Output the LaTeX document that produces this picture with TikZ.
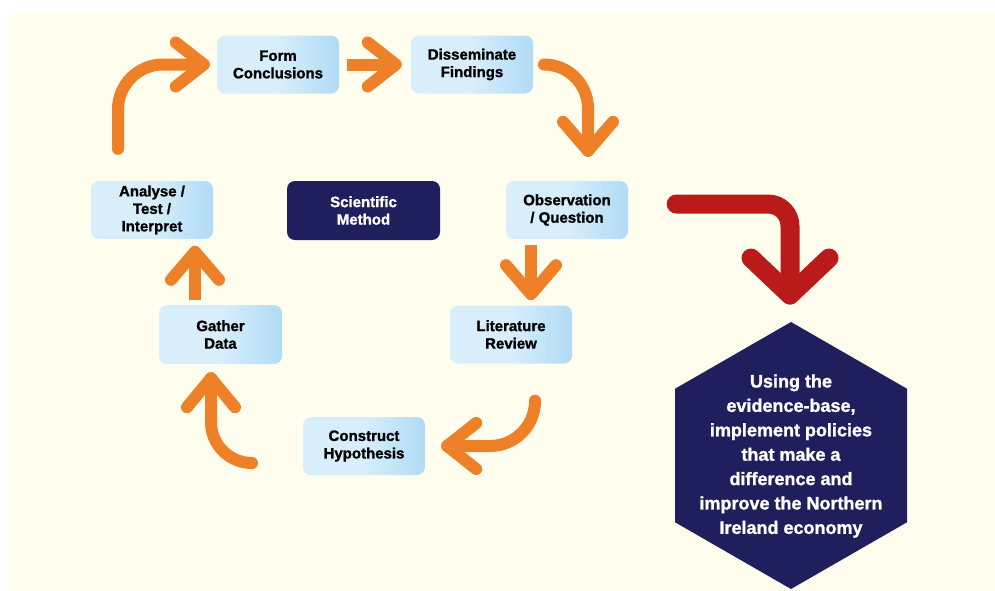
\documentclass[tikz,border=0pt]{standalone}
\usepackage{fontspec}
\setmainfont{Liberation Sans}[BoldFeatures={FakeBold=1.3}]
\usetikzlibrary{calc}
\definecolor{cream}{HTML}{FFFDEE}
\definecolor{orng}{HTML}{EE8028}
\definecolor{redarr}{HTML}{BB1A1A}
\definecolor{navy}{HTML}{1E1F5C}
\definecolor{boxL}{HTML}{D8EEFB}
\definecolor{boxR}{HTML}{B0DBF5}
\newcommand\chevron[4]{\draw[#1] ($(#2)+(#3)$) -- (#2) -- ($(#2)+(#4)$);}
\begin{document}
\begin{tikzpicture}[x=1pt,y=-1pt,
  stepbox/.style={rounded corners=8pt, left color=boxL, right color=boxR, middle color=boxL,
    minimum width=122pt, minimum height=58pt, inner sep=0pt, align=center,
    font=\fontsize{15}{17.5}\selectfont\bfseries, text=black},
  titlebox/.style={rounded corners=8pt, fill=navy, minimum width=153pt, minimum height=59pt,
    inner sep=0pt, align=center, font=\fontsize{15}{17.5}\selectfont\bfseries, text=white},
  arr/.style={draw=orng, line width=12pt, line cap=round, line join=round},
  arrbutt/.style={draw=orng, line width=12pt, line cap=butt},
  redline/.style={draw=redarr, line width=19pt, line cap=round, line join=round},
  hextext/.style={align=center, text=white, font=\fontsize{18}{24.4}\selectfont\bfseries, inner sep=0pt}]
\useasboundingbox (0,0) rectangle (995,590);
\clip (0,0) rectangle (995,590);
\fill[white] (0,0) rectangle (995,590);
\fill[cream, rounded corners=12pt] (8,12) rectangle (1012,606);

% boxes
\node[stepbox] (fc) at (278,64.5) {Form\\Conclusions};
\node[stepbox] (df) at (472,64.5) {Disseminate\\Findings};
\node[stepbox] (ob) at (567,210) {Observation\\/ Question};
\node[stepbox] (lr) at (511,334.5) {Literature\\Review};
\node[stepbox] (ch) at (364,446) {Construct\\Hypothesis};
\node[stepbox, minimum width=123pt, minimum height=59pt] (gd) at (220.5,334.5) {Gather\\Data};
\node[stepbox] (an) at (152,210) {Analyse /\\Test /\\Interpret};
\node[titlebox] (sm) at (363.5,210.5) {Scientific\\Method};

% hexagon
\coordinate (hc) at (791,455.5);
\fill[navy] ($(hc)+(0,-133.5)$) -- ($(hc)+(116,-66.75)$) -- ($(hc)+(116,66.75)$)
  -- ($(hc)+(0,133.5)$) -- ($(hc)+(-116,66.75)$) -- ($(hc)+(-116,-66.75)$) -- cycle;
\coordinate (htop) at ($(hc)+(0,-133.5)$);
\node[hextext] (ht) at ($(hc)+(0,0.5)$) {Using the\\evidence-base,\\implement policies\\that make a\\difference and\\improve the Northern\\Ireland economy};

% arrow 1: analyse -> form conclusions
\coordinate (a1s) at ($(an.north)+(-34,-32)$);
\coordinate (a1t) at ($(fc.west)+(-13,0)$);
\draw[arr, rounded corners=45pt] (a1s) |- (a1t);
\chevron{arr}{a1t}{-28,-22}{-28,22}

% arrow 2: form -> disseminate
\coordinate (a2s) at ($(fc.east)+(8,0)$);
\coordinate (a2t) at ($(df.west)+(-15,0)$);
\draw[arrbutt] (a2s) -- (a2t);
\chevron{arr}{a2t}{-28,-22}{-28,22}

% arrow 3: disseminate -> observation
\coordinate (a3s) at ($(df.east)+(12,0)$);
\coordinate (a3t) at ($(ob.north)+(21,-30)$);
\draw[arr, rounded corners=44pt] (a3s) -| (a3t);
\chevron{arr}{a3t}{-25,-29}{25,-29}

% arrow 4: observation -> literature
\coordinate (a4s) at ($(ob.south)+(-36,6)$);
\coordinate (a4t) at ($(ob.south)+(-36,55)$);
\draw[arrbutt] (a4s) -- (a4t);
\chevron{arr}{a4t}{-25,-29}{25,-29}

% arrow 5: literature -> construct
\coordinate (a5s) at ($(lr.south)+(24,37)$);
\coordinate (a5t) at ($(ch.east)+(22,0)$);
\draw[arr, rounded corners=45pt] (a5s) |- (a5t);
\chevron{arr}{a5t}{29,-23}{29,23}

% arrow 6: construct -> gather
\coordinate (a6s) at ($(ch.west)+(-52,17)$);
\coordinate (a6t) at ($(gd.south)+(-9.5,14)$);
\draw[arr, rounded corners=41pt] (a6s) -| (a6t);
\chevron{arr}{a6t}{-24,29}{24,29}

% arrow 7: gather -> analyse
\coordinate (a7s) at ($(gd.north)+(-25.5,-5)$);
\coordinate (a7t) at ($(gd.north)+(-25.5,-53)$);
\draw[arrbutt] (a7s) -- (a7t);
\chevron{arr}{a7t}{-24,28}{24,28}

% red arrow: observation -> hexagon
\coordinate (r1) at ($(ob.east)+(48,-6)$);
\coordinate (r2) at ($(htop)+(-1,-27)$);
\draw[redline, rounded corners=22pt] (r1) -| (r2);
\chevron{redline}{r2}{-39,-37}{39,-37}
\end{tikzpicture}
\end{document}
